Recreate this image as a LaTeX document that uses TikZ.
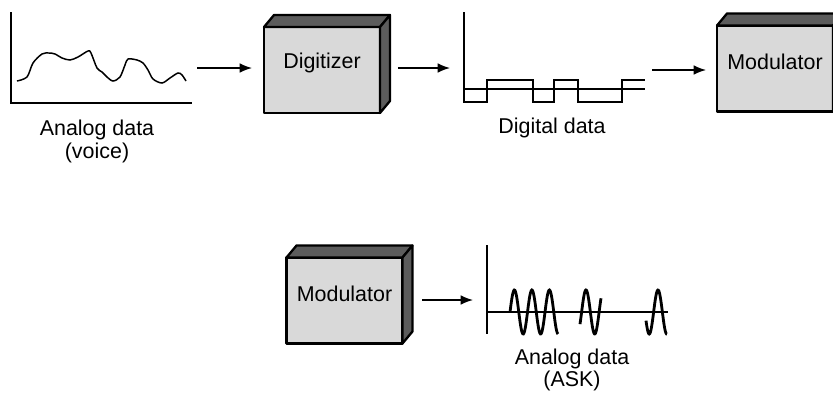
\documentclass[tikz,border=0pt]{standalone}
\usepackage{fontspec}
\setmainfont{Liberation Sans}
\usetikzlibrary{arrows.meta,calc}
\definecolor{frontgray}{gray}{0.85}
\definecolor{sidegray}{gray}{0.36}
\tikzset{
	front/.style={draw, line width=1.3pt, line join=round, fill=frontgray, minimum width=2.32cm, minimum height=1.72cm, inner sep=0pt, outer sep=0pt},
	side/.style={draw, line width=1.3pt, line join=round, fill=sidegray},
	axis/.style={line width=0.7pt},
	signal/.style={line width=1.6pt},
	link/.style={->, line width=0.8pt},
}
% 3D block: name, position, text
\newcommand\blockbox[3]{%
	\node[front] (#1) at #2 {};
	\draw[side] (#1.north west) -- ++(10,-12) -- ($(#1.north east)+(10,-12)$) -- (#1.north east) -- cycle;
	\draw[side] (#1.north east) -- ++(10,-12) -- ($(#1.south east)+(10,-12)$) -- (#1.south east) -- cycle;
	\node (#1txt) at ($(#1.center)+(0,-7)$) {#3};
}
\begin{document}
\begin{tikzpicture}[>={Latex[length=7pt,width=5.5pt]}, x=0.02cm, y=-0.02cm, font=\fontsize{12.2}{13}\selectfont]
	\clip (0,0) rectangle (833,396);
	% analog data (voice)
	\draw[axis] (11,12) -- (11,103) -- (192,103);
	\draw[line width=0.85pt] plot[smooth] coordinates {(17,81) (27,77) (33,63) (42,54) (49,53) (55,54) (62,58) (70,60) (78,57) (88,51) (91,53) (97,68) (102,72) (107,77) (113,81) (120,77) (125,65) (128,59) (137,60) (143,63) (148,70) (153,79) (162,83) (170,78) (178,73) (182,75) (186,81)};
	\node[align=center] (voicelbl) at (97,141.5) {Analog data\\(voice)};
	\coordinate (voiceend) at (197,68);
	% digitizer
	\blockbox{dig}{(322,70)}{Digitizer}
	\coordinate (digin) at (450,68);
	\draw[link, shorten >=0.24cm] (voiceend) -- (voiceend -| dig.west);
	\draw[link, shorten <=0.36cm] (dig.east |- voiceend) -- (digin);
	% digital data
	\draw[axis] (464,12) -- (464,103) (464,89) -- (645,89);
	\draw[signal] (464,102) -| (487,80) -| (533,102) -| (554,80) -| (578,102) -| (622,80) -- (645,80);
	\node (diglbl) at (552,128) {Digital data};
	\coordinate (digout) at (652,70);
	% modulator (top)
	\blockbox{modtop}{(775,68.5)}{Modulator}
	\draw[link, shorten >=0.22cm] (digout) -- (digout -| modtop.west);
	% modulator (bottom)
	\blockbox{modbot}{(344.5,300.5)}{Modulator}
	\coordinate (askin) at (473,300);
	\draw[link, shorten <=0.4cm] (modbot.east |- askin) -- (askin);
	% analog data (ASK)
	\draw[axis] (487,245) -- (487,334) (487,312) -- (668,312);
	\draw[signal, samples=80, smooth, domain=510:558] plot (\x,{312-22*cos(360*(\x-514.4)/17.5)});
	\draw[signal, samples=40, smooth, domain=580:601] plot (\x,{312-22*cos(360*(\x-586)/17.5)});
	\draw[signal, samples=40, smooth, domain=646:667] plot (\x,{312-22*cos(360*(\x-658)/17.5)});
	\node[align=center] (asklbl) at (572,370) {Analog data\\(ASK)};
\end{tikzpicture}
\end{document}
